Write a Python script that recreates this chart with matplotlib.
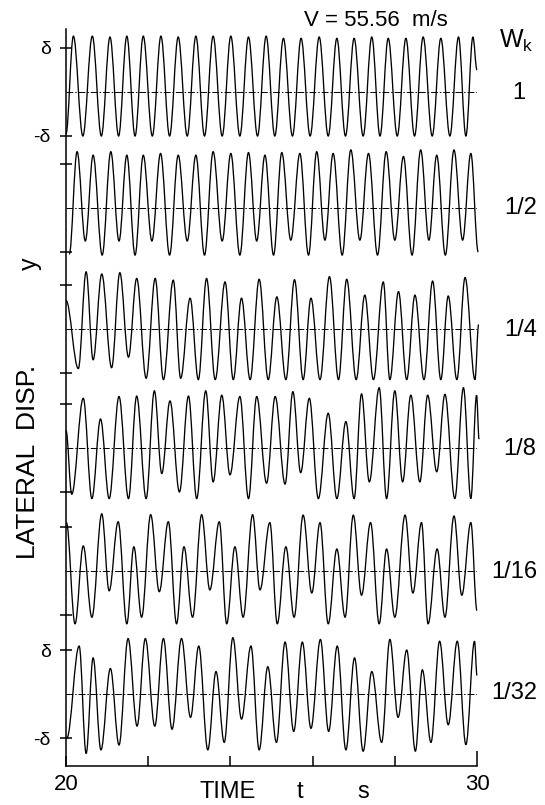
import matplotlib
matplotlib.use("Agg")
import matplotlib.pyplot as plt
from matplotlib.path import Path
from matplotlib.patches import PathPatch

plt.rcParams['font.family'] = ['Liberation Sans', 'DejaVu Sans']
plt.rcParams['mathtext.default'] = 'regular'

# ---------------- data (time in s, displacement in units of delta) ----------------
TITLE = "V = 55.56  m/s"
WK_LABELS = ["1", "1/2", "1/4", "1/8", "1/16", "1/32"]
X_TICKS = [20, 22, 24, 26, 28]
X_TICK_LABELS = ["20", "", "", "", ""]

P1_T = [20.00,
        20.18, 20.41, 20.64, 20.86, 21.07, 21.28, 21.48, 21.68, 21.88, 22.10,
        22.31, 22.52, 22.73, 22.95, 23.16, 23.37, 23.58, 23.80, 24.01, 24.23,
        24.44, 24.66, 24.87, 25.08, 25.29, 25.51, 25.72, 25.94, 26.16, 26.38,
        26.59, 26.80, 27.01, 27.23, 27.44, 27.64, 27.84, 28.06, 28.27, 28.48,
        28.69, 28.91, 29.12, 29.34, 29.55, 29.73, 29.90,
        30.00]
P1_V = [-0.95,
        1.27, -1.00, 1.27, -1.00, 1.25, -1.00, 1.27, -1.00, 1.27, -1.00,
        1.27, -1.00, 1.25, -1.00, 1.27, -1.00, 1.27, -1.00, 1.27, -1.00,
        1.25, -1.00, 1.27, -1.00, 1.22, -1.00, 1.22, -1.00, 1.25, -1.00,
        1.22, -1.00, 1.22, -1.00, 1.25, -1.00, 1.22, -1.00, 1.22, -1.00,
        1.25, -1.00, 1.22, -1.00, 1.25, -1.00, 1.25,
        0.50]

P2_T = [20.08,
        20.27, 20.47, 20.66, 20.88, 21.09, 21.29, 21.48, 21.68, 21.88, 22.09,
        22.30, 22.52, 22.73, 22.95, 23.16, 23.37, 23.58, 23.80, 24.01, 24.23,
        24.44, 24.64, 24.84, 25.05, 25.25, 25.47, 25.69, 25.90, 26.10, 26.30,
        26.50, 26.72, 26.93, 27.15, 27.36, 27.58, 27.79, 28.00, 28.21, 28.42,
        28.63, 28.83, 29.02, 29.23, 29.44, 29.65, 29.85,
        30.03]
P2_V = [-1.05,
        1.28, -0.75, 1.20, -1.07, 1.28, -0.75, 1.20, -1.07, 1.20, -0.75,
        1.24, -1.07, 1.20, -0.75, 1.20, -1.07, 1.28, -0.75, 1.24, -1.07,
        1.26, -0.75, 1.20, -1.07, 1.26, -0.73, 1.24, -1.07, 1.28, -0.73,
        1.24, -1.07, 1.32, -0.73, 1.24, -1.07, 1.28, -0.73, 1.17, -1.07,
        1.32, -0.73, 1.20, -1.07, 1.32, -0.73, 1.24,
        -1.00]

P3_T = [20.00,
        20.30, 20.49, 20.66, 20.87, 21.11, 21.31, 21.52, 21.72, 21.95, 22.17,
        22.37, 22.61, 22.79, 23.02, 23.22, 23.42, 23.63, 23.87, 24.07, 24.27,
        24.48, 24.70, 24.92, 25.13, 25.35, 25.56, 25.77, 25.96, 26.18, 26.41,
        26.63, 26.83, 27.06, 27.27, 27.48, 27.72, 27.88, 28.09, 28.29, 28.49,
        28.71, 28.92, 29.12, 29.30, 29.51, 29.71, 29.95,
        30.04]
P3_V = [0.65,
        -0.90, 1.30, -0.70, 1.25, -0.88, 1.28, -0.64, 1.15, -1.12, 1.15,
        -1.15, 1.11, -1.12, 0.70, -1.15, 1.15, -1.15, 1.07, -1.15, 0.70,
        -1.15, 1.13, -1.15, 0.73, -1.15, 1.12, -1.15, 0.70, -1.15, 1.19,
        -1.15, 1.13, -1.15, 0.77, -1.15, 1.07, -1.15, 0.85, -1.15, 0.77,
        -1.15, 1.09, -1.15, 0.75, -1.15, 1.17, -1.15,
        0.10]

P4_T = [20.00,
        20.14, 20.42, 20.63, 20.84, 21.05, 21.29, 21.52, 21.72, 21.95, 22.15,
        22.33, 22.53, 22.76, 22.98, 23.18, 23.40, 23.58, 23.79, 23.99, 24.23,
        24.44, 24.64, 24.88, 25.09, 25.33, 25.52, 25.71, 25.92, 26.14, 26.38,
        26.59, 26.81, 27.01, 27.19, 27.38, 27.62, 27.80, 28.00, 28.19, 28.39,
        28.61, 28.80, 29.02, 29.22, 29.46, 29.67, 29.85, 29.99,
        30.05]
P4_V = [0.40,
        -1.05, 1.13, -1.15, 0.66, -1.15, 1.17, -1.15, 1.18, -1.15, 1.30,
        -0.58, 1.07, -1.00, 1.18, -1.15, 1.30, -0.77, 1.20, -0.61, 1.17,
        -1.15, 1.17, -0.80, 1.17, -0.82, 1.28, -0.56, 1.13, -1.15, 0.79,
        -1.15, 0.60, -1.15, 1.23, -0.77, 1.37, -1.15, 1.30, -0.77, 1.20,
        -0.77, 1.20, -0.54, 1.22, -1.15, 1.37, -1.15, 1.20,
        0.20]

P5_T = [20.01,
        20.22, 20.42, 20.63, 20.87, 21.05, 21.27, 21.48, 21.65, 21.84, 22.06,
        22.27, 22.49, 22.69, 22.87, 23.08, 23.30, 23.50, 23.73, 23.91, 24.11,
        24.31, 24.54, 24.72, 24.96, 25.14, 25.35, 25.55, 25.77, 25.98, 26.18,
        26.38, 26.59, 26.79, 26.99, 27.19, 27.41, 27.62, 27.80, 28.00, 28.25,
        28.44, 28.65, 28.81, 29.03, 29.22, 29.44, 29.63, 29.85,
        30.00]
P5_V = [1.10,
        -1.20, 0.57, -1.05, 1.30, -0.45, 1.12, -1.20, 0.55, -1.05, 1.28,
        -0.47, 1.12, -1.20, 0.55, -1.05, 1.28, -0.43, 1.12, -1.20, 0.55,
        -1.05, 1.28, -0.43, 1.10, -1.20, 0.55, -1.05, 1.27, -0.50, 1.10,
        -1.20, 0.50, -1.05, 1.27, -0.55, 1.10, -1.20, 0.50, -1.05, 1.27,
        -0.50, 1.10, -1.20, 0.50, -1.05, 1.25, -0.55, 1.10,
        -0.90]

P6_T = [20.02,
        20.32, 20.49, 20.66, 20.85, 21.08, 21.29, 21.51, 21.73, 21.93, 22.16,
        22.37, 22.58, 22.81, 23.03, 23.23, 23.45, 23.65, 23.85, 24.06, 24.27,
        24.50, 24.70, 24.91, 25.12, 25.33, 25.54, 25.75, 25.96, 26.19, 26.39,
        26.60, 26.81, 27.02, 27.23, 27.44, 27.68, 27.88, 28.08, 28.29, 28.50,
        28.67, 28.88, 29.09, 29.30, 29.52, 29.73, 29.94,
        30.00]
P6_V = [-1.00,
        1.09, -1.35, 0.82, -1.27, 0.58, -1.16, 1.26, -0.73, 1.26, -0.73,
        1.26, -0.80, 1.26, -0.53, 1.09, -1.27, 0.51, -1.10, 1.28, -0.57,
        1.09, -1.27, 0.62, -1.10, 1.18, -0.85, 1.18, -0.78, 1.24, -0.85,
        1.09, -1.27, 0.82, -1.30, 0.51, -1.10, 1.24, -0.53, 1.00, -1.30,
        0.55, -1.10, 1.20, -0.70, 1.20, -1.15, 1.20,
        0.42]

SERIES = [(P1_T, P1_V), (P2_T, P2_V), (P3_T, P3_V),
          (P4_T, P4_V), (P5_T, P5_V), (P6_T, P6_V)]

# ---------------- layout (pixels of the 545x805 image) ----------------
W, H = 545, 805
LEFT_PX, RIGHT_PX = 66, 477
TOP_PX, BOTTOM_PX = 29, 766
CENTER_PX = [92, 208, 329, 448, 571, 694]
DELTA_PX = 44.0
K = 0.364  # bezier handle fraction (smooth curve through extrema)

fig = plt.figure(figsize=(W / 100, H / 100), dpi=100)
ax = fig.add_axes([LEFT_PX / W, 1 - BOTTOM_PX / H,
                   (RIGHT_PX - LEFT_PX) / W, (BOTTOM_PX - TOP_PX) / H])
ax.set_xlim(20, 30)
ax.set_ylim(0, (BOTTOM_PX - TOP_PX) / DELTA_PX)
offsets = [(BOTTOM_PX - c) / DELTA_PX for c in CENTER_PX]

for (T, V), off in zip(SERIES, offsets):
    pts = list(zip(T, V))
    verts = [(pts[0][0], pts[0][1] + off)]
    codes = [Path.MOVETO]
    for (t0, v0), (t1, v1) in zip(pts[:-1], pts[1:]):
        dt = t1 - t0
        verts += [(t0 + K * dt, v0 + off), (t1 - K * dt, v1 + off), (t1, v1 + off)]
        codes += [Path.CURVE4] * 3
    ax.add_patch(PathPatch(Path(verts, codes), fill=False, lw=0.95,
                           edgecolor='black', clip_on=False))
    ax.plot([20, 30], [off, off], color='black', lw=0.7,
            ls=(0, (7, 2, 1.5, 2)))

for s in ['top', 'right']:
    ax.spines[s].set_visible(False)
for s in ['left', 'bottom']:
    ax.spines[s].set_linewidth(1.1)

# x ticks
ax.set_xticks(X_TICKS)
ax.set_xticklabels(X_TICK_LABELS)
ax.set_xticks([30], minor=True)
ax.set_xticklabels(["30"], minor=True)
ax.tick_params(axis='x', which='major', direction='in', length=7, width=1.1,
               labelsize=16, pad=6)
ax.tick_params(axis='x', which='minor', direction='in', length=11, width=1.1,
               labelsize=16, pad=6)

# y ticks at +/- delta of every trace
yt, yl = [], []
for i, off in enumerate(offsets):
    yt += [off - 1, off + 1]
    if i in (0, len(offsets) - 1):
        yl += ["-\u03b4", "\u03b4"]
    else:
        yl += ["", ""]
ax.set_yticks(yt)
ax.set_yticklabels(yl)
ax.tick_params(axis='y', direction='inout', length=8, width=1.1,
               labelsize=14, pad=7)


def ftext(xp, yp, s, **kw):
    fig.text(xp / W, 1 - yp / H, s, **kw)


ftext(376, 20, TITLE, fontsize=16, ha='center', va='center')
ftext(516, 41, "$W_k$", fontsize=18, ha='center', va='center')
label_pos = [(519, 93, 'center'), (537, 208, 'right'), (537, 330, 'right'),
             (536, 449, 'right'), (537, 572, 'right'), (537, 693, 'right')]
for lab, (xp, yp, ha) in zip(WK_LABELS, label_pos):
    ftext(xp, yp, lab, fontsize=17, ha=ha, va='center')

ftext(28, 462, "LATERAL  DISP.", fontsize=19, rotation=90,
      ha='center', va='center')
ftext(30, 264, "y", fontsize=18, rotation=90, ha='center', va='center')
ftext(228, 792, "TIME", fontsize=17, ha='center', va='center')
ftext(300, 792, "t", fontsize=17, ha='center', va='center')
ftext(363, 792, "s", fontsize=17, ha='center', va='center')

fig.savefig("out.png", dpi=100)
